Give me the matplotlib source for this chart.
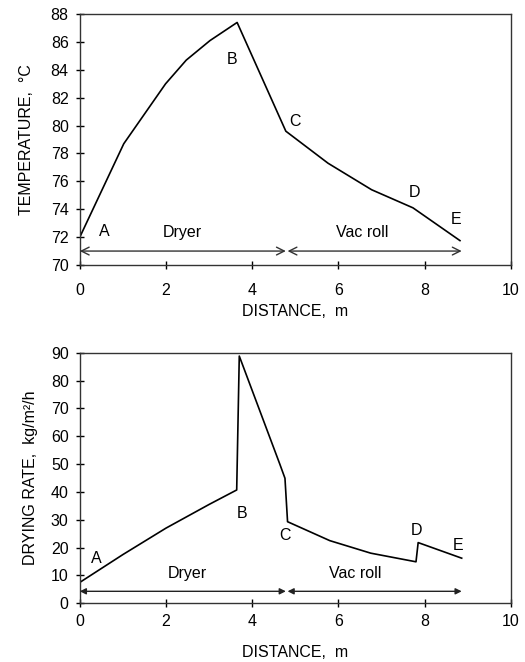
import matplotlib
matplotlib.use("Agg")
import matplotlib.pyplot as plt

plt.rcParams['font.family'] = ['Liberation Sans', 'DejaVu Sans']
plt.rcParams['font.size'] = 11.5

# temperature profile along the machine
dist_temp = [0, 1.02, 1.99, 2.47, 3.02, 3.65, 4.78, 5.76, 6.77, 7.73, 8.82]
temp = [72.0, 78.7, 83.0, 84.7, 86.1, 87.4, 79.6, 77.3, 75.4, 74.1, 71.75]

# drying rate profile
dist_rate = [0, 1.0, 2.0, 3.0, 3.64, 3.70, 4.64, 4.76, 4.82, 5.8, 6.75, 7.80, 7.85, 8.86]
rate = [7.5, 17.5, 27.0, 35.5, 40.7, 88.8, 50.0, 44.9, 29.3, 22.5, 18.0, 14.9, 21.8, 16.2]

point_names = ['A', 'B', 'C', 'D', 'E']
temp_label_x = [0.56, 3.54, 4.99, 7.76, 8.72]
temp_label_y = [72.4, 84.75, 80.3, 75.2, 73.3]
rate_label_x = [0.39, 3.77, 4.76, 7.81, 8.78]
rate_label_y = [16.2, 32.3, 24.3, 26.1, 20.9]

sections = ['Dryer', 'Vac roll']
section_spans = [(0.0, 4.78), (4.82, 8.86)]

fig = plt.figure(figsize=(5.25, 6.62), dpi=100)
ax1 = fig.add_axes([0.152, 0.5997, 0.821, 0.379])
ax2 = fig.add_axes([0.152, 0.0887, 0.821, 0.3785])


def style_axes(ax, xpad, labelpad):
    for sp in ax.spines.values():
        sp.set_color('#333333')
        sp.set_linewidth(1.0)
    ax.tick_params(direction='inout', length=6, width=1, top=False, right=False)
    ax.tick_params(axis='x', pad=xpad)
    ax.tick_params(axis='y', pad=5)
    ax.set_xlim(0, 10)
    ax.set_xticks([0, 2, 4, 6, 8, 10])
    ax.set_xlabel('DISTANCE,  m', labelpad=labelpad)


# top panel: temperature
ax1.plot(dist_temp, temp, color='black', lw=1.2)
ax1.set_ylim(70, 88)
ax1.set_yticks(range(70, 89, 2))
ax1.set_ylabel('TEMPERATURE,  °C', labelpad=12)
style_axes(ax1, 10, 4)
for name, x, y in zip(point_names, temp_label_x, temp_label_y):
    ax1.text(x, y, name, ha='center', va='center')
for (x0, x1), name, xt in zip(section_spans, sections, [2.38, 6.56]):
    ax1.annotate('', xy=(x1, 71.0), xytext=(x0, 71.0),
                 arrowprops=dict(arrowstyle='<->', color='#333333', lw=1.0,
                                 shrinkA=0, shrinkB=0,
                                 mutation_scale=14))
    ax1.text(xt, 72.3, name, ha='center', va='center')

# bottom panel: drying rate
ax2.plot(dist_rate, rate, color='black', lw=1.2)
ax2.set_ylim(0, 90)
ax2.set_yticks(range(0, 91, 10))
ax2.set_ylabel('DRYING RATE,  kg/m²/h', labelpad=9)
style_axes(ax2, 4.5, 12)
for name, x, y in zip(point_names, rate_label_x, rate_label_y):
    ax2.text(x, y, name, ha='center', va='center')
for (x0, x1), name, xt in zip(section_spans, sections, [2.5, 6.4]):
    ax2.annotate('', xy=(x1, 4.3), xytext=(x0, 4.3),
                 arrowprops=dict(arrowstyle='<|-|>', color='#222222', lw=1.0,
                                 shrinkA=0, shrinkB=0,
                                 mutation_scale=9))
    ax2.text(xt, 10.8, name, ha='center', va='center')

fig.savefig('out.png', dpi=100)
